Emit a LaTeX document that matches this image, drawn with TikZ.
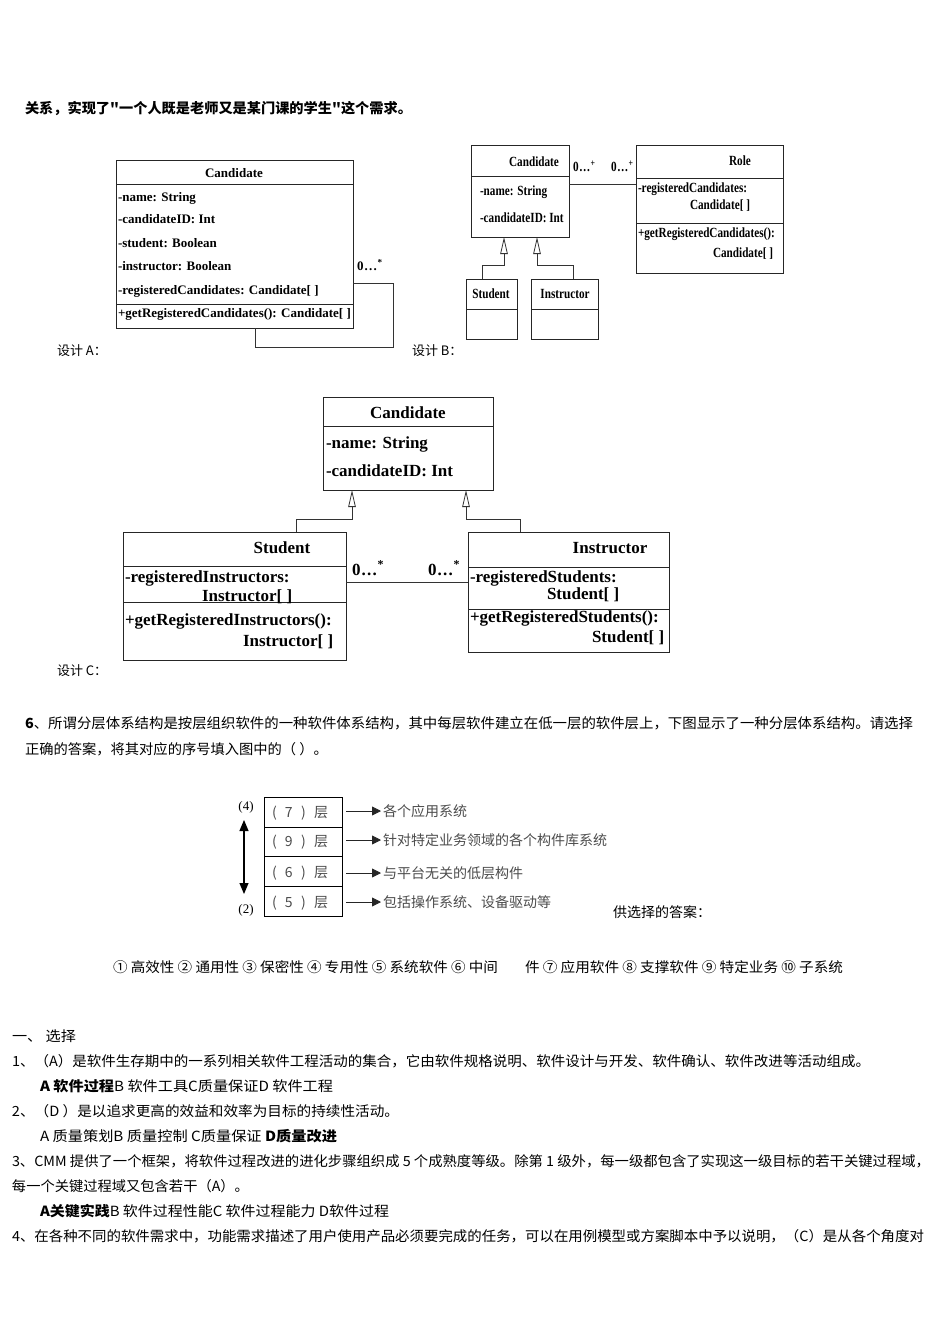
\documentclass[tikz,border=0pt]{standalone}
\usepackage{fontspec}
\usepackage{graphicx}
\setmainfont{Liberation Serif}
\newfontfamily\cjk{Noto Sans CJK SC}
\usetikzlibrary{arrows.meta}
\newcommand\fitto[2]{\resizebox{#1}{\height}{#2}}
\newcommand\cond[1]{\scalebox{0.8}[1]{#1}}
\newcommand\multz{0\kern1.2pt.\kern1.2pt.\kern1.2pt.\kern0.8pt}
\tikzset{
  every node/.style={inner sep=0pt, outer sep=0pt},
  umlbox/.style={draw=black!85, line width=0.8pt, anchor=north west},
  sepline/.style={draw=black!85, line width=0.8pt},
  conn/.style={draw=black!80, line width=0.8pt},
  gen/.style={conn, -{Triangle[open, width=7.5pt, length=17pt]}},
  ta/.style={font=\fontsize{13}{15}\selectfont\bfseries, anchor=west, text height=9pt, text depth=3pt},
  tac/.style={ta, anchor=center},
  tb/.style={font=\fontsize{14}{16}\selectfont\bfseries, anchor=west, text height=10pt, text depth=3pt},
  tbc/.style={tb, anchor=center},
  tc/.style={font=\fontsize{17}{19}\selectfont\bfseries, anchor=west, text height=12pt, text depth=4pt},
  tcc/.style={tc, anchor=center},
  cjkt/.style={font=\cjk\fontsize{14}{16}\selectfont, anchor=west, text height=12pt, text depth=2pt},
  cjks/.style={font=\cjk\fontsize{13}{15}\selectfont, anchor=west, text height=11pt, text depth=2pt},
  greytxt/.style={cjkt, text=black!70},
  layerbox/.style={draw=black, line width=0.8pt, anchor=north west, minimum width=78pt},
  larrow/.style={draw=black!85, line width=0.8pt, -{Triangle[width=9pt, length=9pt]}},
  darrow/.style={draw=black, line width=1.1pt, {Triangle[width=9pt, length=11pt]}-{Triangle[width=9pt, length=11pt]}},
}
\begin{document}
\begin{tikzpicture}[x=1pt, y=-1pt]
\useasboundingbox (0,0) rectangle (950,1344);
\fill[white] (0,0) rectangle (950,1344);

% ---------- title ----------
\node[cjkt, font=\cjk\bfseries\fontsize{14}{16}\selectfont] (title) at (25,108)
  {\fitto{387pt}{关系，实现了"一个人既是老师又是某门课的学生"这个需求。}};

% ---------- design A ----------
\node[umlbox, minimum width=237pt, minimum height=168pt] (A) at (116,160) {};
\draw[sepline] (A.west |- 0,184) -- (A.east |- 0,184);
\draw[sepline] (A.west |- 0,304) -- (A.east |- 0,304);
\node[tac] (A0) at (234,174) {Candidate};
\node[ta] (A1) at (118,198) {-name: String};
\node[ta] (A2) at (118,220) {-candidateID: Int};
\node[ta] (A3) at (118,244) {-student: Boolean};
\node[ta] (A4) at (118,267) {-instructor: Boolean};
\node[ta] (A5) at (118,291) {-registeredCandidates: Candidate[ ]};
\node[ta] (A6) at (118,314) {+getRegisteredCandidates(): Candidate[ ]};
\node[ta] (Am) at (357,267) {\multz\textsuperscript{*}};
\coordinate (loopR) at (393,283);
\coordinate (loopB) at (255,347);
\draw[conn] (A.east |- loopR) -- (loopR) |- (loopB) -- (loopB |- A.south);
\node[cjks] (labA) at (57,351) {设计 A：};

% ---------- design B ----------
\node[umlbox, minimum width=98pt, minimum height=92pt] (CB) at (471,145) {};
\draw[sepline] (CB.west |- 0,176) -- (CB.east |- 0,176);
\node[tbc] (CB0) at (534,163) {\cond{Candidate}};
\node[tb] (CB1) at (480,192) {\cond{-name: String}};
\node[tb] (CB2) at (480,219) {\cond{-candidateID: Int}};
\node[umlbox, minimum width=147pt, minimum height=128pt] (R) at (636,145) {};
\draw[sepline] (R.west |- 0,178) -- (R.east |- 0,178);
\draw[sepline] (R.west |- 0,223) -- (R.east |- 0,223);
\node[tbc] (R0) at (740,162) {\cond{Role}};
\node[tb] (R1) at (638,189) {\cond{-registeredCandidates:}};
\node[tb] (R2) at (690,206) {\cond{Candidate[ ]}};
\node[tb] (R3) at (638,234) {\cond{+getRegisteredCandidates():}};
\node[tb] (R4) at (713,254) {\cond{Candidate[ ]}};
\draw[conn] (CB.east |- 0,184) -- (R.west |- 0,184);
\node[tb] (Bm1) at (573,168) {\cond{\multz\textsuperscript{+}}};
\node[tb] (Bm2) at (611,168) {\cond{\multz\textsuperscript{+}}};
\node[umlbox, minimum width=51pt, minimum height=60pt] (BS) at (466,279) {};
\draw[sepline] (BS.west |- 0,309) -- (BS.east |- 0,309);
\node[tbc] (BS0) at (491,295) {\cond{Student}};
\node[umlbox, minimum width=67pt, minimum height=60pt] (BI) at (531,279) {};
\draw[sepline] (BI.west |- 0,309) -- (BI.east |- 0,309);
\node[tbc] (BI0) at (565,295) {\cond{Instructor}};
\draw[gen] ([xshift=16pt]BS.north west) -- ++(0,-14) -| ([xshift=33pt]CB.south west);
\draw[gen] ([xshift=42pt]BI.north west) -- ++(0,-14) -| ([xshift=66pt]CB.south west);
\node[cjks] (labB) at (412,351) {设计 B：};

% ---------- design C ----------
\node[umlbox, minimum width=170pt, minimum height=93pt] (CC) at (323,397) {};
\draw[sepline] (CC.west |- 0,426) -- (CC.east |- 0,426);
\node[tcc] (CC0) at (408,414) {Candidate};
\node[tc] (CC1) at (326,444) {-name: String};
\node[tc] (CC2) at (326,472) {-candidateID: Int};
\node[umlbox, minimum width=223pt, minimum height=128pt] (CS) at (123,532) {};
\draw[sepline] (CS.west |- 0,566) -- (CS.east |- 0,566);
\draw[sepline] (CS.west |- 0,602) -- (CS.east |- 0,602);
\node[tcc] (CS0) at (282,549) {Student};
\node[tc] (CS1) at (125,578) {-registeredInstructors:};
\node[tc] (CS2) at (202,597) {Instructor[ ]};
\node[tc] (CS3) at (125,621) {+getRegisteredInstructors():};
\node[tc] (CS4) at (243,642) {Instructor[ ]};
\node[umlbox, minimum width=201pt, minimum height=120pt] (CI) at (468,532) {};
\draw[sepline] (CI.west |- 0,567) -- (CI.east |- 0,567);
\draw[sepline] (CI.west |- 0,609) -- (CI.east |- 0,609);
\node[tcc] (CI0) at (610,549) {Instructor};
\node[tc] (CI1) at (470,578) {-registeredStudents:};
\node[tc] (CI2) at (547,595) {Student[ ]};
\node[tc] (CI3) at (470,618) {+getRegisteredStudents():};
\node[tc] (CI4) at (592,638) {Student[ ]};
\draw[conn] (CS.east |- 0,582) -- (CI.west |- 0,582);
\node[tc] (Cm1) at (352,571) {\multz\textsuperscript{*}};
\node[tc] (Cm2) at (428,571) {\multz\textsuperscript{*}};
\draw[gen] ([xshift=173pt]CS.north west) -- ++(0,-13) -| ([xshift=29pt]CC.south west);
\draw[gen] ([xshift=52pt]CI.north west) -- ++(0,-13) -| ([xshift=143pt]CC.south west);
\node[cjks] (labC) at (57,671) {设计 C：};

% ---------- question 6 ----------
\node[cjkt] (q6a) at (25,723) {\fitto{888pt}{{\bfseries 6}、所谓分层体系结构是按层组织软件的一种软件体系结构，其中每层软件建立在低一层的软件层上，下图显示了一种分层体系结构。请选择}};
\node[cjkt] (q6b) at (25,749) {\fitto{303pt}{正确的答案，将其对应的序号填入图中的（ ）。}};

% ---------- layer diagram ----------
\node[layerbox, minimum height=30pt] (L7) at (264,797) {};
\node[layerbox, minimum height=29pt] (L9) at (264,827) {};
\node[layerbox, minimum height=30pt] (L6) at (264,856) {};
\node[layerbox, minimum height=30pt] (L5) at (264,886) {};
\node[greytxt, anchor=center] (l7t) at (300,812) {\hbox to 56pt{(\hfill 7\hfill)\hfill 层}};
\node[greytxt, anchor=center] (l9t) at (300,841) {\hbox to 56pt{(\hfill 9\hfill)\hfill 层}};
\node[greytxt, anchor=center] (l6t) at (300,872) {\hbox to 56pt{(\hfill 6\hfill)\hfill 层}};
\node[greytxt, anchor=center] (l5t) at (300,902) {\hbox to 56pt{(\hfill 5\hfill)\hfill 层}};
\node[greytxt] (a7) at (383,811) {各个应用系统};
\node[greytxt] (a9) at (383,840) {针对特定业务领域的各个构件库系统};
\node[greytxt] (a6) at (383,873) {与平台无关的低层构件};
\node[greytxt] (a5) at (383,902) {包括操作系统、设备驱动等};
\draw[larrow, shorten <=4pt, shorten >=2pt] (a7.west -| L7.east) -- (a7.west);
\draw[larrow, shorten <=4pt, shorten >=2pt] (a9.west -| L9.east) -- (a9.west);
\draw[larrow, shorten <=4pt, shorten >=2pt] (a6.west -| L6.east) -- (a6.west);
\draw[larrow, shorten <=4pt, shorten >=2pt] (a5.west -| L5.east) -- (a5.west);
\node[font=\fontsize{13}{15}\selectfont] (n4) at (246,807) {(4)};
\node[font=\fontsize{13}{15}\selectfont] (n2) at (246,910) {(2)};
\coordinate (dtop) at (244,820);
\coordinate (dbot) at (244,894);
\draw[darrow] (dtop) -- (dbot);
\node[cjkt] (ans) at (613,912) {供选择的答案：};
\node[cjkt] (c1) at (113,967) {\fitto{385pt}{① 高效性 ② 通用性 ③ 保密性 ④ 专用性 ⑤ 系统软件 ⑥ 中间}};
\node[cjkt] (c2) at (525,967) {\fitto{318pt}{件 ⑦ 应用软件 ⑧ 支撑软件 ⑨ 特定业务 ⑩ 子系统}};

% ---------- choice questions ----------
\node[cjkt] (s0) at (12,1036) {\fitto{64pt}{一、 选择}};
\node[cjkt] (s1) at (12,1061) {\fitto{858pt}{1、（A）是软件生存期中的一系列相关软件工程活动的集合，它由软件规格说明、软件设计与开发、软件确认、软件改进等活动组成。}};
\node[cjkt] (s1o) at (40,1086) {\fitto{293pt}{{\bfseries A 软件过程}B 软件工具C质量保证D 软件工程}};
\node[cjkt] (s2) at (12,1111) {\fitto{387pt}{2、（D ）是以追求更高的效益和效率为目标的持续性活动。}};
\node[cjkt] (s2o) at (40,1136) {\fitto{297pt}{A 质量策划B 质量控制 C质量保证 {\bfseries D质量改进}}};
\node[cjkt] (s3) at (12,1161) {\fitto{918pt}{3、CMM 提供了一个框架，将软件过程改进的进化步骤组织成 5 个成熟度等级。除第 1 级外，每一级都包含了实现这一级目标的若干关键过程域，}};
\node[cjkt] (s3b) at (12,1186) {\fitto{237pt}{每一个关键过程域又包含若干（A）。}};
\node[cjkt] (s3o) at (40,1211) {\fitto{349pt}{{\bfseries A关键实践}B 软件过程性能C 软件过程能力 D软件过程}};
\node[cjkt] (s4) at (12,1236) {\fitto{912pt}{4、在各种不同的软件需求中，功能需求描述了用户使用产品必须要完成的任务，可以在用例模型或方案脚本中予以说明，（C）是从各个角度对}};
\end{tikzpicture}
\end{document}
